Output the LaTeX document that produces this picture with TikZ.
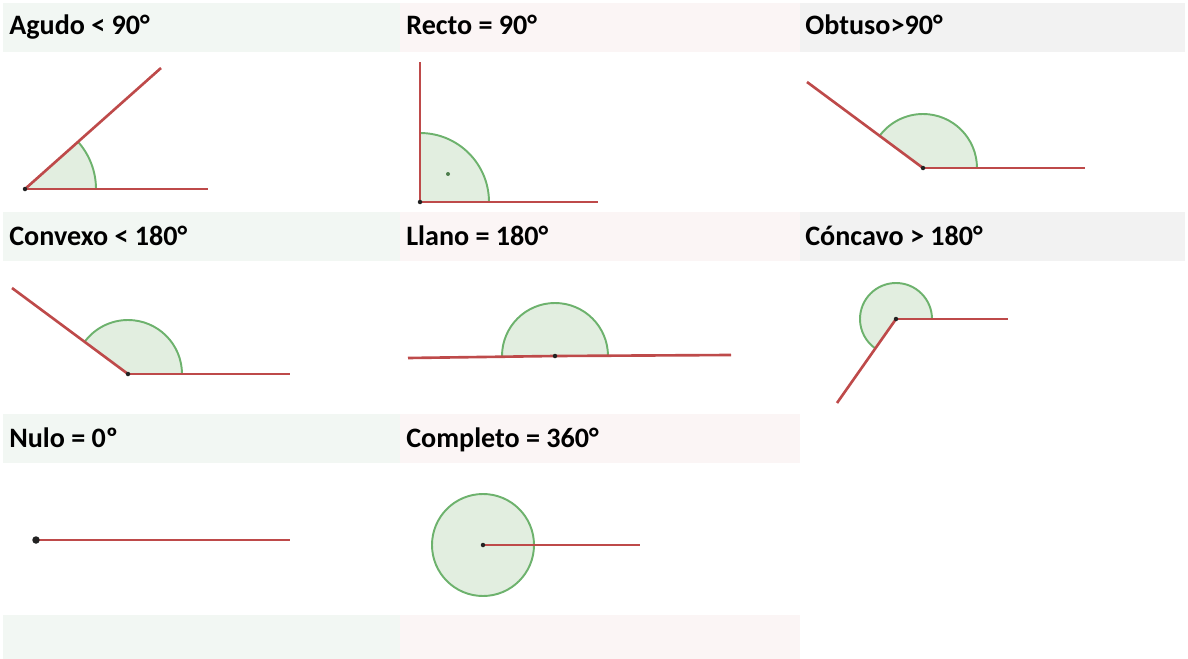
\documentclass[tikz,border=0pt]{standalone}
\usepackage{fontspec}
\setmainfont{Carlito}
\usetikzlibrary{positioning}
\definecolor{angRay}{HTML}{BE4A4A}
\definecolor{angArc}{HTML}{6DB26D}
\definecolor{angFill}{HTML}{E2EEE0}
\definecolor{angDot}{HTML}{222222}
\definecolor{bandGreen}{HTML}{F2F7F3}
\definecolor{bandPink}{HTML}{FBF5F5}
\definecolor{bandGray}{HTML}{F2F2F2}
\tikzset{
  anglefig/.style={
    x=0.02cm, y=-0.02cm,
    every node/.append style={font=\fontsize{16}{18}\selectfont\bfseries},
  },
  band/.style={anchor=north west, inner sep=0pt, minimum height=0.98cm},
  bandwide/.style={band, minimum width=8cm},
  bandnarrow/.style={band, minimum width=7.94cm},
  title/.style={anchor=base west, inner sep=0pt},
  ray/.style={draw=angRay, line width=1.5pt},
  sector/.style={fill=angFill},
  arcline/.style={draw=angArc, line width=1.1pt},
  vertex/.style={circle, fill=angDot, inner sep=0pt, minimum size=0.09cm},
}

\begin{document}
\begin{tikzpicture}[anglefig]
  \useasboundingbox (0,0) rectangle (1188,659);
  % Franjas de cabecera
  \node[bandnarrow, fill=bandGreen] (bandAgudo) at (3,3) {};
  \node[bandwide, fill=bandPink] (bandRecto) at (400,3) {};
  \node[band, minimum width=7.7cm, fill=bandGray] (bandObtuso) at (800,3) {};
  \node[bandnarrow, fill=bandGreen] (bandConvexo) at (3,212) {};
  \node[bandwide, fill=bandPink] (bandLlano) at (400,212) {};
  \node[band, minimum width=7.7cm, fill=bandGray] (bandConcavo) at (800,212) {};
  \node[bandnarrow, fill=bandGreen] (bandNulo) at (3,414) {};
  \node[bandwide, fill=bandPink] (bandCompleto) at (400,414) {};
  \node[bandnarrow, minimum height=0.88cm, fill=bandGreen] (bandPieA) at (3,615) {};
  \node[bandwide, minimum height=0.88cm, fill=bandPink] (bandPieB) at (400,615) {};
  % Titulos
  \node[title] (tAgudo) at (9,34) {Agudo < 90°};
  \node[title] (tRecto) at (406,34) {Recto = 90°};
  \node[title] (tObtuso) at (805,34) {Obtuso>90°};
  \node[title] (tConvexo) at (9,245) {Convexo < 180°};
  \node[title] (tLlano) at (406,245) {Llano = 180°};
  \node[title] (tConcavo) at (805,245) {Cóncavo > 180°};
  \node[title] (tNulo) at (9,447) {Nulo = 0º};
  \node[title] (tCompleto) at (406,447) {Completo = 360°};

  % Agudo
  \coordinate (vAgudo) at (25,189);
  \coordinate (aAgudo) at (208,189);
  \coordinate (bAgudo) at (161,68);
  \fill[sector] (vAgudo) -- ++(71,0) arc[start angle=0, end angle=-41.7, radius=71] -- cycle;
  \draw[arcline] (vAgudo) ++(71,0) arc[start angle=0, end angle=-41.7, radius=71];
  \draw[ray] (vAgudo) -- (aAgudo);
  \draw[ray] (vAgudo) -- (bAgudo);
  \node[vertex] at (vAgudo) {};

  % Recto
  \coordinate (vRecto) at (420,202);
  \coordinate (aRecto) at (598,202);
  \coordinate (bRecto) at (420,62);
  \fill[sector] (vRecto) -- ++(69,0) arc[start angle=0, end angle=-90, radius=69] -- cycle;
  \draw[arcline] (vRecto) ++(69,0) arc[start angle=0, end angle=-90, radius=69];
  \draw[ray] (vRecto) -- (aRecto);
  \draw[ray] (vRecto) -- (bRecto);
  \node[vertex] at (vRecto) {};
  \fill[angArc!70!black] (448,174) circle[radius=2];

  % Obtuso
  \coordinate (vObtuso) at (923,168);
  \coordinate (aObtuso) at (1085,168);
  \coordinate (bObtuso) at (807,82);
  \fill[sector] (vObtuso) -- ++(54,0) arc[start angle=0, end angle=-143.4, radius=54] -- cycle;
  \draw[arcline] (vObtuso) ++(54,0) arc[start angle=0, end angle=-143.4, radius=54];
  \draw[ray] (vObtuso) -- (aObtuso);
  \draw[ray] (vObtuso) -- (bObtuso);
  \node[vertex] at (vObtuso) {};

  % Convexo
  \coordinate (vConvexo) at (128,374);
  \coordinate (aConvexo) at (290,374);
  \coordinate (bConvexo) at (12,288);
  \fill[sector] (vConvexo) -- ++(54,0) arc[start angle=0, end angle=-143.4, radius=54] -- cycle;
  \draw[arcline] (vConvexo) ++(54,0) arc[start angle=0, end angle=-143.4, radius=54];
  \draw[ray] (vConvexo) -- (aConvexo);
  \draw[ray] (vConvexo) -- (bConvexo);
  \node[vertex] at (vConvexo) {};

  % Llano
  \coordinate (vLlano) at (555,356);
  \coordinate (aLlano) at (731,355);
  \coordinate (bLlano) at (408,358);
  \fill[sector] (vLlano) ++(53,0) arc[start angle=0, end angle=-180, radius=53] -- cycle;
  \draw[arcline] (vLlano) ++(53,0) arc[start angle=0, end angle=-180, radius=53];
  \draw[ray] (vLlano) -- (aLlano);
  \draw[ray] (vLlano) -- (bLlano);
  \node[vertex] at (vLlano) {};

  % Concavo
  \coordinate (vConcavo) at (896,319);
  \coordinate (aConcavo) at (1008,319);
  \coordinate (bConcavo) at (837,403);
  \fill[sector] (vConcavo) -- ++(36,0) arc[start angle=0, end angle=-235, radius=36] -- cycle;
  \draw[arcline] (vConcavo) ++(36,0) arc[start angle=0, end angle=-235, radius=36];
  \draw[ray] (vConcavo) -- (aConcavo);
  \draw[ray] (vConcavo) -- (bConcavo);
  \node[vertex] at (vConcavo) {};

  % Nulo
  \coordinate (vNulo) at (36,540);
  \coordinate (aNulo) at (290,540);
  \draw[ray] (vNulo) -- (aNulo);
  \node[vertex, minimum size=0.15cm] at (vNulo) {};

  % Completo
  \coordinate (vCompleto) at (483,545);
  \coordinate (aCompleto) at (640,545);
  \filldraw[sector, arcline] (vCompleto) circle[radius=51];
  \draw[ray] (vCompleto) -- (aCompleto);
  \node[vertex] at (vCompleto) {};
\end{tikzpicture}
\end{document}
